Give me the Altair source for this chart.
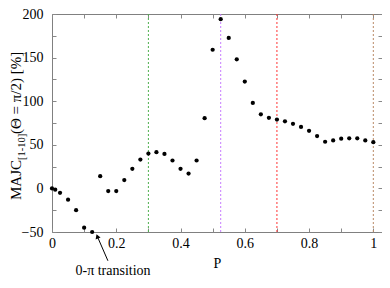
import altair as alt
import pandas as pd

# ---- data ----
P = [0, 0.01, 0.025, 0.05, 0.075, 0.1, 0.125, 0.15, 0.175, 0.2, 0.225, 0.25,
     0.275, 0.3, 0.325, 0.35, 0.375, 0.4, 0.425, 0.45, 0.475, 0.5, 0.525,
     0.55, 0.575, 0.6, 0.625, 0.65, 0.675, 0.7, 0.725, 0.75, 0.775, 0.8,
     0.825, 0.85, 0.875, 0.9, 0.925, 0.95, 0.975, 1.0]
MAJC = [0, -1.5, -5, -13, -25, -45, -50, 14, -3, -3, 9.5, 22.5,
        33, 40, 41.5, 39.5, 32, 22.5, 17, 32, 80.5, 159, 194,
        172.5, 148, 122.5, 98, 85, 81, 79, 77, 74, 70.5, 66,
        60, 53.5, 55, 57, 57.5, 57.5, 55, 53]

VLINE_P = [0.3, 0.525, 0.7, 1.0]
VLINE_NAME = ["g", "p", "r", "b"]
VLINE_COLORS = ["#4fb04f", "#c77dff", "#ff3333", "#b98a66"]

X_TICKS = [0, 0.1, 0.2, 0.3, 0.4, 0.5, 0.6, 0.7, 0.8, 0.9, 1.0]
Y_TICKS = [-50, -25, 0, 25, 50, 75, 100, 125, 150, 175, 200]

ANNOT_TEXT = ["0-π transition"]
ANNOT_X = [0.19]
ANNOT_Y = [-95]
ARROW_X = [0.174, 0.141]
ARROW_Y = [-83, -55]

YTITLE_PARTS = ["MAJC", "[1-10]", "(Θ = π/2) [%]"]

FONT = "Liberation Serif"
TICK_COLOR = "#888888"

df = pd.DataFrame({"P": P, "MAJC": MAJC})
vl = pd.DataFrame({"P": VLINE_P, "name": VLINE_NAME})
ann = pd.DataFrame({"t": ANNOT_TEXT, "x": ANNOT_X, "y": ANNOT_Y})
arr = pd.DataFrame({"x": [ARROW_X[0]], "y": [ARROW_Y[0]],
                    "x2": [ARROW_X[1]], "y2": [ARROW_Y[1]]})
head = pd.DataFrame({"x": [ARROW_X[1]], "y": [ARROW_Y[1]]})

xs = alt.Scale(domain=[0, 1.027], nice=False, zero=False)
ys = alt.Scale(domain=[-50, 200], nice=False, zero=False)

common_axis = dict(grid=False, domain=False, tickSize=4, offset=-4,
                   tickColor=TICK_COLOR, labelFont=FONT, labelFontSize=14,
                   labelColor="black", labelOverlap=False, labelFlush=False,
                   titleFont=FONT, titleFontSize=14, titleFontWeight="normal",
                   titleColor="black")

x_bottom = alt.Axis(orient="bottom", values=X_TICKS, format="~g",
                    labelExpr="round(datum.value*10) % 2 == 0 ? datum.label : ''",
                    labelPadding=4, title="P", titlePadding=6, **common_axis)
y_left = alt.Axis(orient="left", values=Y_TICKS, format="d",
                  labelExpr="datum.value % 50 == 0 ? datum.label : ''",
                  labelPadding=9, title=None, **common_axis)
x_top = alt.Axis(orient="top", values=X_TICKS, labels=False, title=None,
                 **common_axis)
y_right = alt.Axis(orient="right", values=Y_TICKS, labels=False, title=None,
                   **common_axis)

rules = alt.Chart(vl).mark_rule(strokeDash=[2, 2], strokeWidth=1).encode(
    x=alt.X("P:Q", scale=xs, axis=None),
    color=alt.Color("name:N", scale=alt.Scale(domain=VLINE_NAME, range=VLINE_COLORS), legend=None),
)

points = alt.Chart(df).mark_circle(size=18, color="black", opacity=1).encode(
    x=alt.X("P:Q", scale=xs, axis=x_bottom),
    y=alt.Y("MAJC:Q", scale=ys, axis=y_left),
)

ghost = alt.Chart(df).mark_circle(opacity=0).encode(
    x=alt.X("P:Q", scale=xs, axis=x_top),
    y=alt.Y("MAJC:Q", scale=ys, axis=y_right),
)

arrow = alt.Chart(arr).mark_rule(color="black", strokeWidth=1).encode(
    x=alt.X("x:Q", scale=xs, axis=None), y=alt.Y("y:Q", scale=ys, axis=None),
    x2="x2:Q", y2="y2:Q",
)
arrow_head = alt.Chart(head).mark_point(shape="triangle-up", filled=True, color="black",
                                        size=28, angle=340, opacity=1).encode(
    x=alt.X("x:Q", scale=xs, axis=None), y=alt.Y("y:Q", scale=ys, axis=None),
)
annot = alt.Chart(ann).mark_text(font=FONT, fontSize=14, color="black",
                                 align="center", baseline="middle").encode(
    x=alt.X("x:Q", scale=xs, axis=None), y=alt.Y("y:Q", scale=ys, axis=None),
    text="t:N",
)

def ytitle_part(txt, px, py, size):
    return alt.Chart(pd.DataFrame({"t": [txt]})).mark_text(
        font=FONT, fontSize=size, color="black", angle=270,
        align="left", baseline="alphabetic").encode(
        x=alt.value(px), y=alt.value(py), text="t:N")

yt1 = ytitle_part(YTITLE_PARTS[0], -31, 186, 15)
yt2 = ytitle_part(YTITLE_PARTS[1], -27, 146, 10.5)
yt3 = ytitle_part(YTITLE_PARTS[2], -31, 120, 15)

chart = alt.layer(rules, points, ghost, arrow, arrow_head, annot, yt1, yt2, yt3).resolve_axis(
    x="independent", y="independent"
).properties(
    width=330, height=218,
    autosize=alt.AutoSizeParams(type="none"),
    padding={"left": 44, "top": 6, "right": 0, "bottom": 48},
).configure_view(stroke="#808080", strokeWidth=1)

chart.save("out.html", embed_options={"renderer": "svg", "actions": False})
